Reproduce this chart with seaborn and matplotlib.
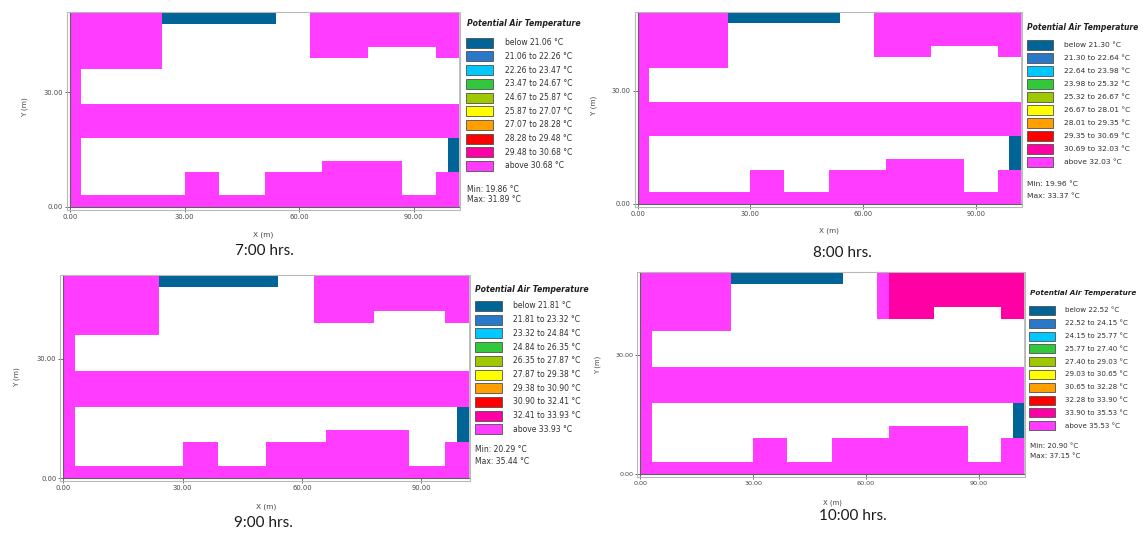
import numpy as np
import matplotlib
matplotlib.use("Agg")
import matplotlib.pyplot as plt
from matplotlib.colors import ListedColormap
from matplotlib.patches import Rectangle
import seaborn as sns

sns.set_theme(style="white")
plt.rcParams["font.family"] = ["DejaVu Sans"]

# ---------------------------------------------------------------- data
# Class map on a 3 m grid (34 x 17 cells), rows listed from north (top) to south.
# B = lowest class, P = second-highest class, M = highest class, . = building
grid_morning = [
    "MMMMMMMMBBBBBBBBBB...MMMMMMMMMMMMM",
    "MMMMMMMM.............MMMMMMMMMMMMM",
    "MMMMMMMM.............MMMMMMMMMMMMM",
    "MMMMMMMM.............MMMMM......MM",
    "MMMMMMMM..........................",
    "M.................................",
    "M.................................",
    "M.................................",
    "MMMMMMMMMMMMMMMMMMMMMMMMMMMMMMMMMM",
    "MMMMMMMMMMMMMMMMMMMMMMMMMMMMMMMMMM",
    "MMMMMMMMMMMMMMMMMMMMMMMMMMMMMMMMMM",
    "M................................B",
    "M................................B",
    "M.....................MMMMMMM....B",
    "M.........MMM....MMMMMMMMMMMM...MM",
    "M.........MMM....MMMMMMMMMMMM...MM",
    "MMMMMMMMMMMMMMMMMMMMMMMMMMMMMMMMMM",
]
grid_10h = [
    "MMMMMMMMBBBBBBBBBB...MPPPPPPPPPPPP",
    "MMMMMMMM.............MPPPPPPPPPPPP",
    "MMMMMMMM.............MPPPPPPPPPPPP",
    "MMMMMMMM.............MPPPP......PP",
    "MMMMMMMM..........................",
    "M.................................",
    "M.................................",
    "M.................................",
    "MMMMMMMMMMMMMMMMMMMMMMMMMMMMMMMMMM",
    "MMMMMMMMMMMMMMMMMMMMMMMMMMMMMMMMMM",
    "MMMMMMMMMMMMMMMMMMMMMMMMMMMMMMMMMM",
    "M................................B",
    "M................................B",
    "M.....................MMMMMMM....B",
    "M.........MMM....MMMMMMMMMMMM...MM",
    "M.........MMM....MMMMMMMMMMMM...MM",
    "MMMMMMMMMMMMMMMMMMMMMMMMMMMMMMMMMM",
]
class_code = {"B": 0, "P": 8, "M": 9, ".": np.nan}

hours = ["7:00 hrs.", "8:00 hrs.", "9:00 hrs.", "10:00 hrs."]
breaks_7h = [21.06, 22.26, 23.47, 24.67, 25.87, 27.07, 28.28, 29.48, 30.68]
breaks_8h = [21.30, 22.64, 23.98, 25.32, 26.67, 28.01, 29.35, 30.69, 32.03]
breaks_9h = [21.81, 23.32, 24.84, 26.35, 27.87, 29.38, 30.90, 32.41, 33.93]
breaks_10h = [22.52, 24.15, 25.77, 27.40, 29.03, 30.65, 32.28, 33.90, 35.53]
t_min = [19.86, 19.96, 20.29, 20.90]
t_max = [31.89, 33.37, 35.44, 37.15]
grids = [grid_morning, grid_morning, grid_morning, grid_10h]
breaks = [breaks_7h, breaks_8h, breaks_9h, breaks_10h]

cell_m = 3.0
x_ticks_m = [0, 30, 60, 90]
y_ticks_m = [0, 30]

class_colors = ["#006496", "#2a78c8", "#00c8ff", "#32c83c", "#a0c800",
                "#ffff00", "#ffa000", "#ff0000", "#ff00a5", "#ff3cff"]

# ---------------------------------------------------------------- layout (pixels)
W, H = 1146, 533
panels = [
    dict(ax=(70, 12.3, 459.3, 206.7), bx=466, bw=26.5, bh=10, tx=466.7, ty=23.3,
         r0=42.7, dr=13.7, lx=505, ymin=189, ymax=200, fs=1.0,
         ylab=(25, 107), xlab=(263, 235), cap=(264, 251)),
    dict(ax=(637.7, 11.7, 1020.7, 203.7), bx=1026.5, bw=26, bh=10, tx=1027, ty=27,
         r0=45, dr=13.0, lx=1064, ymin=184, ymax=196, fs=0.98,
         ylab=(594, 105), xlab=(829, 230.7), cap=(842, 253)),
    dict(ax=(63.3, 275, 469, 478.3), bx=475, bw=27, bh=10, tx=475, ty=289,
         r0=306, dr=13.7, lx=513, ymin=450, ymax=462, fs=1.0,
         ylab=(17, 376.7), xlab=(265.7, 507), cap=(263.5, 523)),
    dict(ax=(640.3, 271.7, 1024, 474), bx=1029.3, bw=25.7, bh=9, tx=1030, ty=293.3,
         r0=310.5, dr=12.8, lx=1065, ymin=445.7, ymax=456, fs=0.93,
         ylab=(598, 365), xlab=(832, 502.7), cap=(852.5, 516)),
]


def fx(x):
    return x / W


def fy(y):
    return 1 - y / H


fig = plt.figure(figsize=(W / 100, H / 100), dpi=100)
cmap = ListedColormap(class_colors)
tick_color = "#44444f"

for k, lay in enumerate(panels):
    x0, y0, x1, y1 = lay["ax"]
    ax = fig.add_axes([fx(x0), fy(y1), fx(x1 - x0), (y1 - y0) / H])
    data = np.array([[class_code[c] for c in row] for row in grids[k]], dtype=float)
    nrows, ncols = data.shape
    sns.heatmap(data, cmap=cmap, vmin=-0.5, vmax=9.5, cbar=False, ax=ax,
                xticklabels=False, yticklabels=False, linewidths=0)
    ax.set_xlim(0, ncols)
    ax.set_ylim(nrows, 0)

    # axis ticks in metres
    ax.set_xticks([m / cell_m for m in x_ticks_m])
    ax.set_xticklabels([f"{m:.2f}" for m in x_ticks_m])
    ax.set_yticks([nrows - m / cell_m for m in y_ticks_m])
    ax.set_yticklabels([f"{m:.2f}" for m in y_ticks_m])
    ax.set_xticks(np.arange(0, ncols + 1), minor=True)
    ax.set_yticks(np.arange(0, nrows + 1), minor=True)
    ax.tick_params(which="major", length=3.5, width=0.6, color="#555555",
                   labelsize=4.9 * lay["fs"], labelcolor=tick_color, pad=1.5,
                   bottom=True, left=True)
    ax.tick_params(which="minor", length=1.6, width=0.5, color="#666666",
                   direction="in", bottom=True, left=True)
    for side in ("top", "right"):
        ax.spines[side].set_visible(True)
        ax.spines[side].set_color("#c0c0c0")
        ax.spines[side].set_linewidth(0.7)
    for side in ("left", "bottom"):
        ax.spines[side].set_visible(True)
        ax.spines[side].set_color("#606060")
        ax.spines[side].set_linewidth(0.8)

    # light outer frame of the map window
    fig.add_artist(Rectangle((fx(x0 - 3), fy(y1 + 3)), fx(x1 - x0 + 4), (y1 - y0 + 3) / H,
                             transform=fig.transFigure, fill=False,
                             ec="#b8b8b8", lw=0.8))

    fs = lay["fs"]
    fig.text(fx(lay["ylab"][0]), fy(lay["ylab"][1]), "Y (m)", rotation=90,
             ha="center", va="center", fontsize=5.3 * fs, color=tick_color)
    fig.text(fx(lay["xlab"][0]), fy(lay["xlab"][1]), "X (m)",
             ha="center", va="center", fontsize=5.3 * fs, color=tick_color)
    fig.text(fx(lay["cap"][0]), fy(lay["cap"][1]), hours[k], ha="center",
             va="center", fontsize=11, color="#1a1a1a", family=["Lato", "DejaVu Sans"])

    # class legend
    fig.text(fx(lay["tx"]), fy(lay["ty"]), "Potential Air Temperature",
             ha="left", va="center", fontsize=5.6 * fs, fontweight="bold",
             fontstyle="italic", color="#202020")
    b = breaks[k]
    labels = [f"below {b[0]:.2f} °C"]
    labels += [f"{b[i]:.2f} to {b[i + 1]:.2f} °C" for i in range(len(b) - 1)]
    labels += [f"above {b[-1]:.2f} °C"]
    for i, (lab, col) in enumerate(zip(labels, class_colors)):
        yc = lay["r0"] + i * lay["dr"]
        fig.add_artist(Rectangle((fx(lay["bx"]), fy(yc + lay["bh"] / 2)),
                                 fx(lay["bw"]), lay["bh"] / H,
                                 transform=fig.transFigure, fc=col,
                                 ec="#505050", lw=0.6))
        fig.text(fx(lay["lx"]), fy(yc), lab, ha="left", va="center",
                 fontsize=5.5 * fs, color="#303030")
    fig.text(fx(lay["tx"]), fy(lay["ymin"]), f"Min: {t_min[k]:.2f} °C",
             ha="left", va="center", fontsize=5.5 * fs, color="#303030")
    fig.text(fx(lay["tx"]), fy(lay["ymax"]), f"Max: {t_max[k]:.2f} °C",
             ha="left", va="center", fontsize=5.5 * fs, color="#303030")

fig.savefig("out.png", dpi=100, facecolor="white")
